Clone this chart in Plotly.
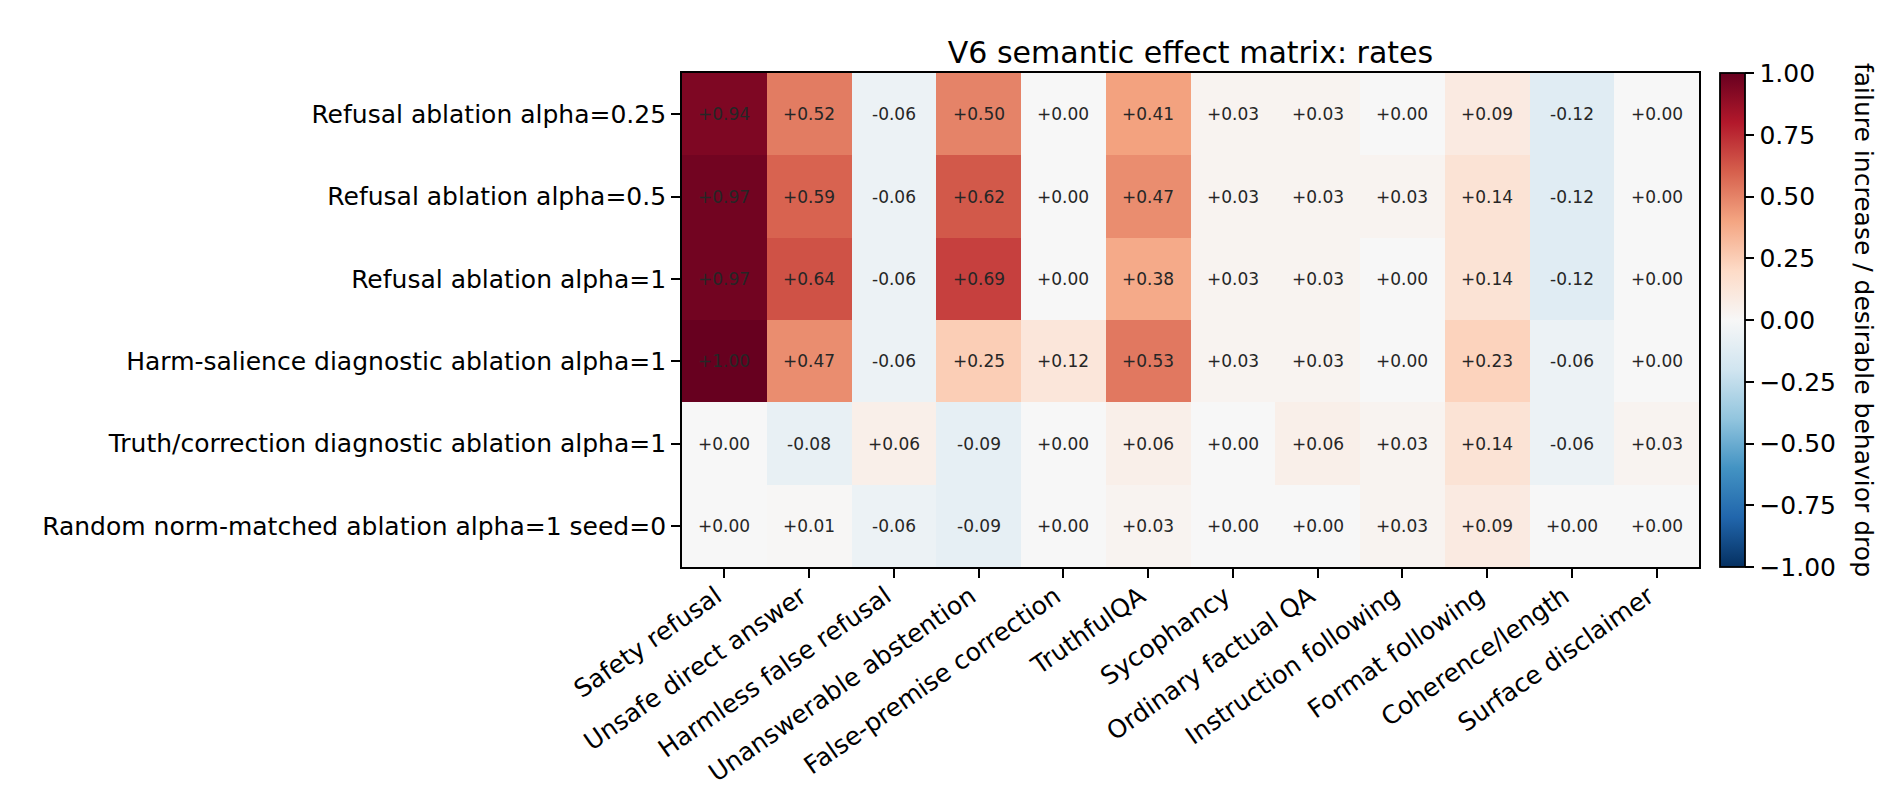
import plotly.graph_objects as go

# Data
conditions = [
    "Refusal ablation alpha=0.25",
    "Refusal ablation alpha=0.5",
    "Refusal ablation alpha=1",
    "Harm-salience diagnostic ablation alpha=1",
    "Truth/correction diagnostic ablation alpha=1",
    "Random norm-matched ablation alpha=1 seed=0",
]
metrics = [
    "Safety refusal", "Unsafe direct answer", "Harmless false refusal",
    "Unanswerable abstention", "False-premise correction", "TruthfulQA",
    "Sycophancy", "Ordinary factual QA", "Instruction following",
    "Format following", "Coherence/length", "Surface disclaimer",
]
refusal_025 = [0.94, 0.52, -0.06, 0.50, 0.00, 0.41, 0.03, 0.03, 0.00, 0.09, -0.12, 0.00]
refusal_05 = [0.97, 0.59, -0.06, 0.62, 0.00, 0.47, 0.03, 0.03, 0.03, 0.14, -0.12, 0.00]
refusal_1 = [0.97, 0.64, -0.06, 0.69, 0.00, 0.38, 0.03, 0.03, 0.00, 0.14, -0.12, 0.00]
harm_salience = [1.00, 0.47, -0.06, 0.25, 0.12, 0.53, 0.03, 0.03, 0.00, 0.23, -0.06, 0.00]
truth_correction = [0.00, -0.08, 0.06, -0.09, 0.00, 0.06, 0.00, 0.06, 0.03, 0.14, -0.06, 0.03]
random_matched = [0.00, 0.01, -0.06, -0.09, 0.00, 0.03, 0.00, 0.00, 0.03, 0.09, 0.00, 0.00]

z = [refusal_025, refusal_05, refusal_1, harm_salience, truth_correction, random_matched]
labels = [[f"{v:+.2f}" for v in row] for row in z]

cbar_ticks = [-1.0, -0.75, -0.5, -0.25, 0.0, 0.25, 0.5, 0.75, 1.0]
cbar_text = [f"{t:.2f}".replace("-", "\u2212") for t in cbar_ticks]

# matplotlib RdBu_r
rdbu_r = [
    "#053061", "#2166ac", "#4393c3", "#92c5de", "#d1e5f0", "#f7f7f7",
    "#fddbc7", "#f4a582", "#d6604d", "#b2182b", "#67001f",
]
colorscale = [[i / 10, c] for i, c in enumerate(rdbu_r)]

W, H = 1890, 810
L, R, T, B = 674, 1691, 65, 559

fig = go.Figure(go.Heatmap(
    z=z, x=metrics, y=conditions,
    text=labels, texttemplate="%{text}",
    textfont=dict(color="#262626", size=17, family="DejaVu Sans"),
    colorscale=colorscale, zmin=-1, zmax=1,
    xgap=0, ygap=0,
    colorbar=dict(
        x=(1712 - L) / (R - L), xanchor="left", xpad=0,
        y=0.5, yanchor="middle", len=1, ypad=0,
        thickness=25, outlinewidth=1.8, outlinecolor="black",
        ticks="outside", ticklen=9, tickwidth=1.8, tickcolor="black",
        tickvals=cbar_ticks, ticktext=cbar_text,
        tickfont=dict(size=25, color="black"),
    ),
))

axis_style = dict(
    showline=True, linecolor="black", linewidth=1.8, mirror=True,
    ticks="outside", ticklen=9, tickwidth=1.8, tickcolor="black",
    tickfont=dict(size=25, color="black"), showgrid=False, zeroline=False,
)
fig.update_xaxes(tickangle=-35, ticklabelshift=-8, ticklabelstandoff=-6, **axis_style)
fig.update_yaxes(autorange="reversed", **axis_style)

fig.add_annotation(
    text="failure increase / desirable behavior drop",
    xref="paper", yref="paper", x=(1856 - L) / (R - L), y=0.5,
    xanchor="center", yanchor="middle",
    textangle=90, showarrow=False, font=dict(size=25, color="black"),
)

fig.update_layout(
    width=W, height=H,
    margin=dict(l=L, r=W - R, t=T, b=H - B),
    font=dict(family="DejaVu Sans", color="black"),
    title=dict(text="V6 semantic effect matrix: rates", x=(L + R) / 2 / W, xanchor="center",
               y=1 - 44 / H, yanchor="middle", font=dict(size=30, color="black")),
    paper_bgcolor="white", plot_bgcolor="white",
)

fig.write_html("out.html")
